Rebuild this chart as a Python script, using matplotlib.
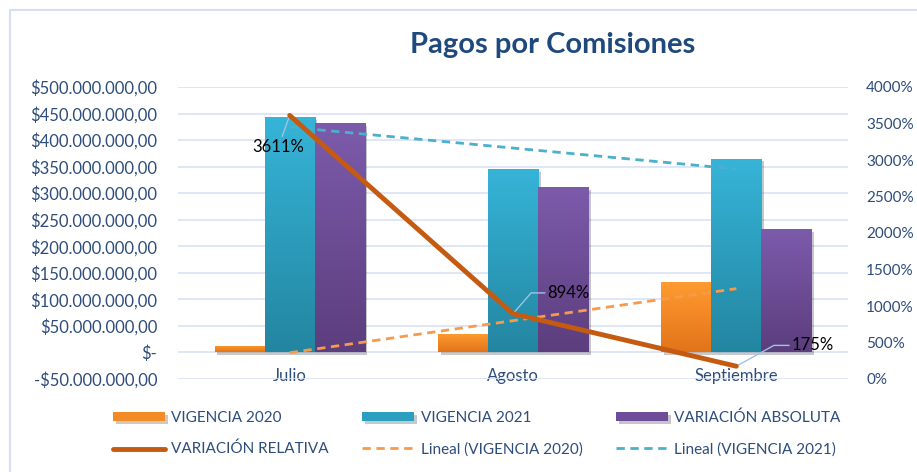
import numpy as np
import matplotlib
matplotlib.use("Agg")
import matplotlib.pyplot as plt
import matplotlib.patheffects as pe
from matplotlib.colors import LinearSegmentedColormap
from matplotlib.patches import Rectangle
from matplotlib.ticker import FuncFormatter, MultipleLocator

plt.rcParams['font.family'] = ['Lato', 'DejaVu Sans']

# datos
meses = ["Julio", "Agosto", "Septiembre"]
vigencia_2020 = [12_000_000, 34_800_000, 132_700_000]
vigencia_2021 = [444_000_000, 346_000_000, 365_000_000]
variacion_abs = [432_000_000, 311_200_000, 232_300_000]
variacion_rel = [3611, 894, 175]  # %

txt_color = "#2E4D7B"
grid_color = "#D9E2F3"

fig = plt.figure(figsize=(9.17, 4.72), dpi=100)
ax = fig.add_axes([178 / 917, 1 - 379 / 472, 670 / 917, 292 / 472])
ax2 = ax.twinx()

x = np.arange(1, len(meses) + 1)
w = 0.224

def degradado(ax, bars, top, bottom):
    cmap = LinearSegmentedColormap.from_list("g", [bottom, top])
    for b in bars:
        bx, by, bw, bh = b.get_x(), b.get_y(), b.get_width(), b.get_height()
        img = ax.imshow(np.linspace(0, 1, 64).reshape(-1, 1), extent=(bx, bx + bw, by, by + bh),
                        origin="lower", cmap=cmap, aspect="auto", zorder=b.get_zorder() + 0.1)
        img.set_clip_path(b)

shadow = [pe.SimplePatchShadow(offset=(2, -2), alpha=0.25), pe.Normal()]
b1 = ax.bar(x - w, vigencia_2020, w, color="#F28A25", zorder=2, path_effects=shadow, label="VIGENCIA 2020")
b2 = ax.bar(x, vigencia_2021, w, color="#2C9EC0", zorder=2, path_effects=shadow, label="VIGENCIA 2021")
b3 = ax.bar(x + w, variacion_abs, w, color="#6D4C9A", zorder=2, path_effects=shadow, label="VARIACIÓN ABSOLUTA")
degradado(ax, b1, "#FF9B30", "#E2741A")
degradado(ax, b2, "#36B4D8", "#2386A1")
degradado(ax, b3, "#7C5BAB", "#5C3E7E")

# lineas de tendencia (lineal)
p20 = np.polyfit(x, vigencia_2020, 1)
p21 = np.polyfit(x, vigencia_2021, 1)
t1, = ax.plot(x, np.polyval(p20, x), color="#F79A4A", lw=2, ls=(0, (3, 2)), zorder=4,
              label="Lineal (VIGENCIA 2020)")
t2, = ax.plot(x, np.polyval(p21, x), color="#4BB0CC", lw=2, ls=(0, (3, 2)), zorder=4,
              label="Lineal (VIGENCIA 2021)")

l1, = ax2.plot(x, variacion_rel, color="#C55A11", lw=3.5, solid_capstyle="round", zorder=5,
               label="VARIACIÓN RELATIVA")

# etiquetas de datos
lead = dict(arrowstyle="-", color="#9DC3E6", lw=1, shrinkA=0, shrinkB=0)
ax2.annotate(f"{variacion_rel[0]}%", xy=(x[0], variacion_rel[0]), xytext=(-8, -23),
             textcoords="offset points", ha="center", va="center", fontsize=12, color="black",
             arrowprops=dict(lead, relpos=(0.55, 1.0)))
ax2.annotate(f"{variacion_rel[1]}%", xy=(x[1], variacion_rel[1]), xytext=(25, 15),
             textcoords="offset points", ha="left", va="center", fontsize=12, color="black",
             arrowprops=dict(lead, relpos=(0, 0.5), connectionstyle="angle,angleA=0,angleB=49,rad=0"))
ax2.annotate(f"{variacion_rel[2]}%", xy=(x[2], variacion_rel[2]), xytext=(40, 15),
             textcoords="offset points", ha="left", va="center", fontsize=12, color="black",
             arrowprops=dict(lead, relpos=(0, 0.5), connectionstyle="angle,angleA=0,angleB=29,rad=0"))

# ejes
def pesos(v, pos):
    if abs(v) < 1:
        return "$-"
    s = f"{abs(v):,.2f}".replace(",", "X").replace(".", ",").replace("X", ".")
    return ("-$" if v < 0 else "$") + s

ax.set_xlim(0.5, 3.5)
ax.set_ylim(-50_000_000, 500_000_000)
ax.yaxis.set_major_locator(MultipleLocator(50_000_000))
ax.yaxis.set_major_formatter(FuncFormatter(pesos))
ax.grid(axis="y", color=grid_color, lw=1.2, zorder=0)
ax.set_axisbelow(True)
ax.set_xticks(x, meses)
ax.tick_params(axis="x", length=0, pad=-8, labelsize=12, labelcolor=txt_color)
ax.tick_params(axis="y", length=0, pad=15, labelsize=12, labelcolor=txt_color)

ax2.set_ylim(0, 4000)
ax2.yaxis.set_major_locator(MultipleLocator(500))
ax2.yaxis.set_major_formatter(FuncFormatter(lambda v, p: f"{v:.0f}%"))
ax2.tick_params(axis="y", length=0, pad=13, labelsize=11, labelcolor=txt_color)

for a in (ax, ax2):
    for s in a.spines.values():
        s.set_visible(False)

fig.text(0.603, 1 - 45 / 472, "Pagos por Comisiones", ha="center", va="center",
         fontsize=21, fontweight="bold", color="#1F497D")

handles = [b1, l1, b2, t1, b3, t2]
leg = fig.legend(handles, [h.get_label() for h in handles], ncol=3, loc="center",
                 bbox_to_anchor=(0.52, 1 - 433.5 / 472), frameon=False, fontsize=11,
                 handlelength=3.4, handleheight=0.5, handletextpad=0.4, columnspacing=2.2,
                 labelspacing=1.1)
for t in leg.get_texts():
    t.set_color(txt_color)

fig.add_artist(Rectangle((10 / 917, -0.1), 1.2, 1 - 10 / 472 + 0.1, transform=fig.transFigure,
                         fill=False, edgecolor="#D6E0F0", lw=1.5))

fig.savefig("out.png", dpi=100)
